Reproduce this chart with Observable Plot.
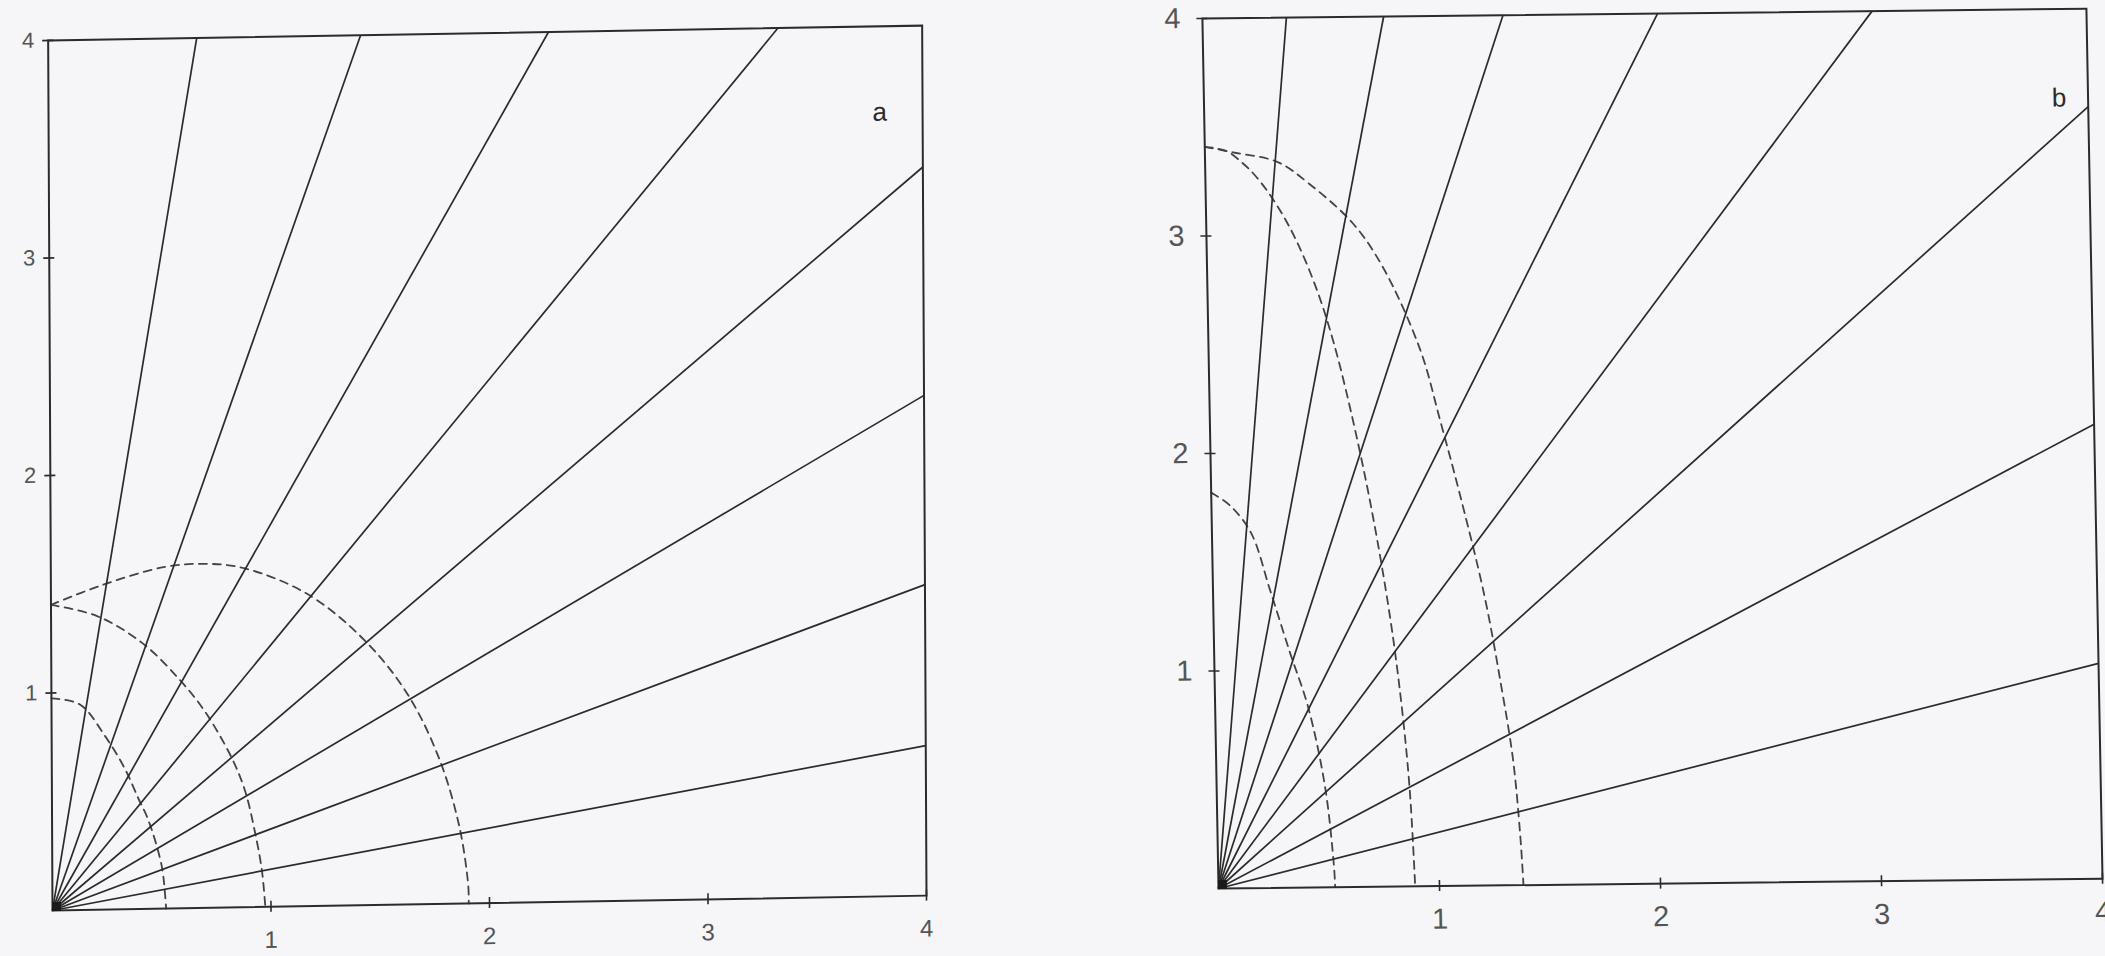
<!DOCTYPE html>
<html>
<head>
<meta charset="utf-8">
<script src="https://cdn.jsdelivr.net/npm/d3@7"></script>
<script src="https://cdn.jsdelivr.net/npm/@observablehq/plot@0.6"></script>
<style>
  html, body { margin: 0; padding: 0; background: #f6f5f7; }
  #figure { position: relative; width: 2105px; height: 956px; overflow: hidden; }
  .panel { position: absolute; top: 0; }
  /* each plotted sheet sits slightly askew on the page */
  #panel-a { left: 0px; transform-origin: 52px 910px; transform: matrix(1, -0.017, 0.005, 1, 0, 0); }
  #panel-b { left: 1150px; transform-origin: 68px 888px; transform: matrix(1, -0.011, 0.0185, 1, 0, 0); }
</style>
</head>
<body>
<div id="figure">
  <div class="panel" id="panel-a"></div>
  <div class="panel" id="panel-b"></div>
</div>
<script>
// ---------- data ----------
const origin = {x: 0, y: 0};
const axisTicks = [1, 2, 3, 4];

// Panel a: far end of each straight ray leaving the origin
const aRayEndX = [0.68, 1.43, 2.29, 3.34, 4, 4, 4, 4];
const aRayEndY = [4, 4, 4, 4, 3.35, 2.30, 1.43, 0.69];

// Panel a: dashed curves
const aCurve1X = [0, 0.13, 0.243, 0.335, 0.396, 0.44, 0.50, 0.517, 0.52];
const aCurve1Y = [0.975, 0.945, 0.80, 0.645, 0.507, 0.41, 0.20, 0.046, 0];
const aCurve2X = [0, 0.213, 0.419, 0.586, 0.70, 0.822, 0.883, 0.928, 0.959, 0.974];
const aCurve2Y = [1.405, 1.349, 1.221, 1.052, 0.906, 0.691, 0.538, 0.346, 0.169, 0];
const aCurve3X = [0, 0.228, 0.517, 0.70, 0.883, 1.172, 1.431, 1.629, 1.773, 1.864, 1.903, 1.905];
const aCurve3Y = [1.405, 1.49, 1.57, 1.582, 1.559, 1.436, 1.221, 0.968, 0.668, 0.353, 0.084, 0];

// Panel b: far end of each straight ray leaving the origin
const bRayEndX = [0.38, 0.82, 1.36, 2.06, 3.03, 4, 4, 4];
const bRayEndY = [4, 4, 4, 4, 4, 3.55, 2.09, 0.99];

// Panel b: dashed curves
const bCurve1X = [0, 0.086, 0.177, 0.258, 0.342, 0.42, 0.49, 0.524, 0.528];
const bCurve1Y = [1.82, 1.758, 1.633, 1.37, 1.084, 0.832, 0.466, 0.10, 0];
const bCurve2X = [0, 0.096, 0.173, 0.23, 0.32, 0.406, 0.494, 0.565, 0.636, 0.72, 0.796, 0.842, 0.873, 0.89];
const bCurve2Y = [3.41, 3.39, 3.33, 3.27, 3.14, 2.975, 2.75, 2.51, 2.2, 1.76, 1.26, 0.85, 0.45, 0];
const bCurve3X = [0, 0.127, 0.329, 0.47, 0.664, 0.797, 0.957, 1.043, 1.121, 1.227, 1.295, 1.343, 1.369, 1.38];
const bCurve3Y = [3.41, 3.383, 3.336, 3.234, 3.05, 2.845, 2.468, 2.136, 1.816, 1.335, 0.923, 0.58, 0.237, 0];

// ---------- drawing ----------
const ink = "#2b2b2b";
const intFormat = d3.format("d");

function drawPanel(container, cfg) {
  const rays = d3.zip(cfg.rayX, cfg.rayY).map(([x, y]) => ({x, y}));
  const curves = cfg.curves.flatMap(([xs, ys], i) =>
    d3.zip(xs, ys).map(([x, y]) => ({curve: i, x, y})));

  const chart = Plot.plot({
    width: cfg.width,
    height: cfg.height,
    marginLeft: cfg.marginLeft,
    marginRight: cfg.marginRight,
    marginTop: cfg.marginTop,
    marginBottom: cfg.marginBottom,
    x: {domain: [0, 4], label: null},
    y: {domain: [0, 4], label: null},
    style: {background: "transparent", fontFamily: "'Liberation Sans', Arial, sans-serif", color: ink, overflow: "visible"},
    marks: [
      Plot.line(curves, {
        x: "x", y: "y", z: "curve", curve: "catmull-rom",
        stroke: "#444", strokeWidth: 1.8, strokeDasharray: "8,6"
      }),
      Plot.link(rays, {
        x1: origin.x, y1: origin.y, x2: "x", y2: "y",
        stroke: ink, strokeWidth: 1.7
      }),
      Plot.frame({stroke: ink, strokeWidth: 2}),
      // tick marks crossing the axes (no text)
      Plot.axisX(axisTicks, {tickSize: 11, dy: -5.5, fill: "none", label: null, stroke: ink, strokeWidth: 1.6}),
      Plot.axisY(axisTicks, {tickSize: 11, dx: 5.5, fill: "none", label: null, stroke: ink, strokeWidth: 1.6}),
      // tick labels
      Plot.axisX(axisTicks, {tickSize: 0, tickPadding: cfg.xPad, tickFormat: intFormat, fontSize: cfg.xFont, fill: "#555", label: null}),
      Plot.axisY(axisTicks, {tickSize: 0, tickPadding: cfg.yPad, tickFormat: intFormat, fontSize: cfg.yFont, fill: "#555", label: null}),
      // ink pooled where the rays meet
      Plot.dot([origin], {x: "x", y: "y", symbol: "square", r: 5, fill: "#1a1a1a", dx: 4, dy: -4}),
      // panel letter
      Plot.text([cfg.letter], {
        frameAnchor: "top-right", dx: cfg.letterDx, dy: cfg.letterDy,
        textAnchor: "middle", lineAnchor: "middle",
        fontSize: 26, fill: "#2b2b2b"
      })
    ]
  });
  container.append(chart);
}

drawPanel(document.getElementById("panel-a"), {
  rayX: aRayEndX, rayY: aRayEndY,
  curves: [[aCurve1X, aCurve1Y], [aCurve2X, aCurve2Y], [aCurve3X, aCurve3Y]],
  width: 960, height: 956,
  marginLeft: 52, marginRight: 34, marginTop: 40, marginBottom: 46,
  xFont: 24, yFont: 22, xPad: 24, yPad: 14,
  letter: "a", letterDx: -43, letterDy: 86
});

drawPanel(document.getElementById("panel-b"), {
  rayX: bRayEndX, rayY: bRayEndY,
  curves: [[bCurve1X, bCurve1Y], [bCurve2X, bCurve2Y], [bCurve3X, bCurve3Y]],
  width: 955, height: 956,
  marginLeft: 68, marginRight: 3, marginTop: 18, marginBottom: 68,
  xFont: 29, yFont: 29, xPad: 22, yPad: 22,
  letter: "b", letterDx: -29, letterDy: 89
});
</script>
</body>
</html>
